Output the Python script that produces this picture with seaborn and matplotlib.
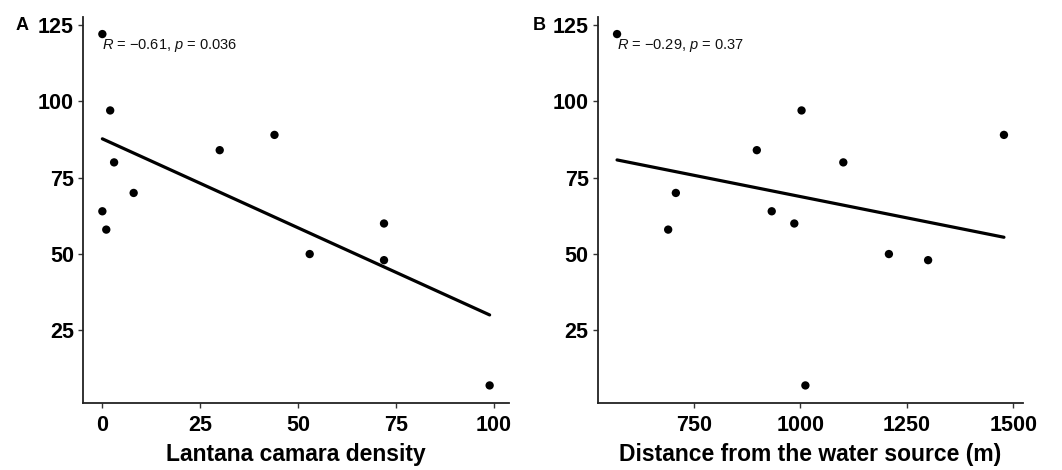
import matplotlib
matplotlib.use("Agg")
import matplotlib.pyplot as plt
from matplotlib import font_manager
import seaborn as sns
import pandas as pd

# ---- data ----
lantana_density = [0, 2, 3, 8, 0, 1, 30, 44, 72, 53, 72, 99]
response_a = [122, 97, 80, 70, 64, 58, 84, 89, 60, 50, 48, 7]
distance_water = [570, 1003, 898, 1101, 1478, 708, 933, 986, 690, 1208, 1300, 1012]
response_b = [122, 97, 84, 80, 89, 70, 64, 60, 58, 50, 48, 7]

x_labels = ["Lantana camara density", "Distance from the water source (m)"]
panel_tags = ["A", "B"]
cor_text = [r"$\it{R}$ = −0.61, $\it{p}$ = 0.036", r"$\it{R}$ = −0.29, $\it{p}$ = 0.37"]
y_ticks = [25, 50, 75, 100, 125]
x_ticks_a = [0, 25, 50, 75, 100]
x_ticks_b = [750, 1000, 1250, 1500]

sns.set_style("ticks")
names = {f.name for f in font_manager.fontManager.ttflist}
fam = "Liberation Sans Narrow" if "Liberation Sans Narrow" in names else "Liberation Sans"
plt.rcParams["font.family"] = [fam, "DejaVu Sans"]
plt.rcParams["mathtext.fontset"] = "custom"
plt.rcParams["mathtext.rm"] = fam
plt.rcParams["mathtext.it"] = fam + ":italic"
for k in ["text.color", "axes.labelcolor", "xtick.color", "ytick.color"]:
    plt.rcParams[k] = "black"

df_a = pd.DataFrame({"x": lantana_density, "y": response_a})
df_b = pd.DataFrame({"x": distance_water, "y": response_b})

fig = plt.figure(figsize=(10.62, 4.70), dpi=100)
W, H = 1062, 470
ax_a = fig.add_axes([83 / W, (470 - 403) / H, 426 / W, 386.5 / H])
ax_b = fig.add_axes([597.7 / W, (470 - 403) / H, 425.6 / W, 386.5 / H])

for ax, df, xl, ct, xt in [
    (ax_a, df_a, x_labels[0], cor_text[0], x_ticks_a),
    (ax_b, df_b, x_labels[1], cor_text[1], x_ticks_b),
]:
    sns.regplot(data=df, x="x", y="y", ax=ax, ci=None, truncate=True,
                scatter_kws=dict(s=36, color="black", edgecolor="none", alpha=1),
                line_kws=dict(color="black", lw=2.3))
    xmin, xmax = df["x"].min(), df["x"].max()
    ymin, ymax = df["y"].min(), df["y"].max()
    ax.set_xlim(xmin - 0.05 * (xmax - xmin), xmax + 0.05 * (xmax - xmin))
    ax.set_ylim(ymin - 0.05 * (ymax - ymin), ymax + 0.05 * (ymax - ymin))
    ax.set_xticks(xt)
    ax.set_yticks(y_ticks)
    for s in ["top", "right"]:
        ax.spines[s].set_visible(False)
    for s in ["left", "bottom"]:
        ax.spines[s].set_linewidth(1.3)
        ax.spines[s].set_color("#222222")
    ax.tick_params(axis="both", length=3.5, width=1.0, color="#333333",
                   labelsize=15.5, labelcolor="black")
    ax.tick_params(axis="x", pad=5)
    ax.tick_params(axis="y", pad=3)
    for lab in ax.get_xticklabels() + ax.get_yticklabels():
        lab.set_fontweight("bold")
    ax.set_xlabel(xl, fontsize=16.5, fontweight="bold", labelpad=5, color="black")
    ax.set_ylabel("")
    ax.text(xmin, 118.3, ct, fontsize=10.5, ha="left", va="center", color="#111111")

fig.text(22 / W, 1 - 26 / H, panel_tags[0], fontsize=13, fontweight="bold", ha="center", va="center")
fig.text(539 / W, 1 - 26 / H, panel_tags[1], fontsize=13, fontweight="bold", ha="center", va="center")

fig.savefig("out.png", dpi=100)
